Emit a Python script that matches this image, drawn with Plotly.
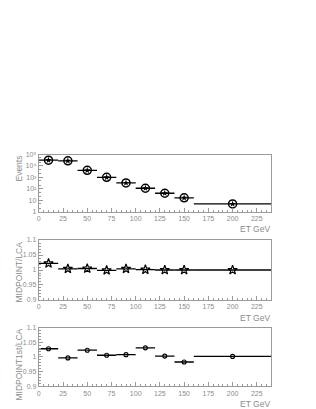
import plotly.graph_objects as go

# Data
et_centers = [10, 30, 50, 70, 90, 110, 130, 150, 200]
et_halfwidth = [10, 10, 10, 10, 10, 10, 10, 10, 40]
events = [32000, 28000, 4100, 1000, 320, 110, 40, 16, 4.6]
midpoint_lca = [1.022, 1.004, 1.005, 0.999, 1.004, 1.001, 1.0, 1.0, 1.0]
midpoint1st_lca = [1.028, 0.997, 1.023, 1.006, 1.008, 1.031, 1.003, 0.983, 1.002]

x_ticks = [0, 25, 50, 75, 100, 125, 150, 175, 200, 225]
log_tickvals = [1, 10, 100, 1000, 10000, 100000]
log_ticktext = ["1", "10", "10²", "10³", "10⁴", "10⁵"]
ratio_tickvals = [0.9, 0.95, 1.0, 1.05, 1.1]
ratio_ticktext = ["0.9", "0.95", "1", "1.05", "1.1"]

W, H = 316, 409
GRAY = "#9a9a9a"
TXT = "#8c8c8c"
FONT = "Liberation Sans"

def px_x(a, b):
    return [a / W, b / W]

def px_y(top, bottom):
    return [1 - bottom / H, 1 - top / H]

fig = go.Figure()

err = dict(type="data", array=et_halfwidth, symmetric=True, color="black", thickness=1.3, width=0)

# Panel 1
fig.add_trace(go.Scatter(x=et_centers, y=events, mode="markers", error_x=err,
                         marker=dict(symbol="circle-open", size=8, color="black", line=dict(width=1.5)),
                         xaxis="x", yaxis="y", showlegend=False))
fig.add_trace(go.Scatter(x=et_centers, y=events, mode="markers",
                         marker=dict(symbol="star", size=5, color="black"),
                         xaxis="x", yaxis="y", showlegend=False))
# Panel 2
fig.add_trace(go.Scatter(x=et_centers, y=midpoint_lca, mode="markers", error_x=err,
                         marker=dict(symbol="star-open", size=7, color="black", line=dict(width=1.2)),
                         xaxis="x2", yaxis="y2", showlegend=False))
# Panel 3
fig.add_trace(go.Scatter(x=et_centers, y=midpoint1st_lca, mode="markers", error_x=err,
                         marker=dict(symbol="circle-open", size=4, color="black", line=dict(width=1.1)),
                         xaxis="x3", yaxis="y3", showlegend=False))

xdom = px_x(29, 263)
common_x = dict(range=[0, 240], tickvals=x_ticks, ticks="inside", ticklen=4, tickcolor=GRAY,
                showline=True, linecolor=GRAY, linewidth=1, mirror=True, showgrid=False, zeroline=False,
                tickfont=dict(family=FONT, size=7, color=TXT),
                minor=dict(dtick=5, tick0=0, ticks="inside", ticklen=2, tickcolor=GRAY, showgrid=False))
common_y = dict(ticks="inside", ticklen=4, tickcolor=GRAY, showline=True, linecolor=GRAY, linewidth=1,
                mirror=True, showgrid=False, zeroline=False,
                tickfont=dict(family=FONT, size=7, color=TXT))

doms = [px_y(145, 203), px_y(232, 293), px_y(321, 381)]

fig.update_layout(
    width=W, height=H, margin=dict(l=0, r=0, t=0, b=0),
    paper_bgcolor="white", plot_bgcolor="white",
    xaxis=dict(domain=xdom, anchor="y", **common_x),
    xaxis2=dict(domain=xdom, anchor="y2", **common_x),
    xaxis3=dict(domain=xdom, anchor="y3", **common_x),
    yaxis=dict(domain=doms[0], anchor="x", type="log", range=[0, 5],
               tickvals=log_tickvals, ticktext=log_ticktext,
               minor=dict(ticks="inside", ticklen=2, tickcolor=GRAY, showgrid=False), **common_y),
    yaxis2=dict(domain=doms[1], anchor="x2", range=[0.9, 1.1],
                tickvals=ratio_tickvals, ticktext=ratio_ticktext,
                minor=dict(dtick=0.01, tick0=0.9, ticks="inside", ticklen=2, tickcolor=GRAY, showgrid=False), **common_y),
    yaxis3=dict(domain=doms[2], anchor="x3", range=[0.9, 1.1],
                tickvals=ratio_tickvals, ticktext=ratio_ticktext,
                minor=dict(dtick=0.01, tick0=0.9, ticks="inside", ticklen=2, tickcolor=GRAY, showgrid=False), **common_y),
)

ann = []
for (top, bottom), title in zip([(145, 203), (232, 293), (321, 381)], ["Events", "MIDPOINT/LCA", "MIDPOINT1st/LCA"]):
    ann.append(dict(xref="paper", yref="paper", x=2 / W, y=1 - (top - 1) / H, xanchor="left", yanchor="top",
                    text=title, textangle=-90, showarrow=False,
                    font=dict(family=FONT, size=8.5, color=TXT)))
    ann.append(dict(xref="paper", yref="paper", x=264 / W, y=1 - (bottom + 11) / H, xanchor="right", yanchor="top",
                    text="ET GeV", showarrow=False, font=dict(family=FONT, size=8.5, color=TXT)))
fig.update_layout(annotations=ann)

fig.write_html("out.html")
